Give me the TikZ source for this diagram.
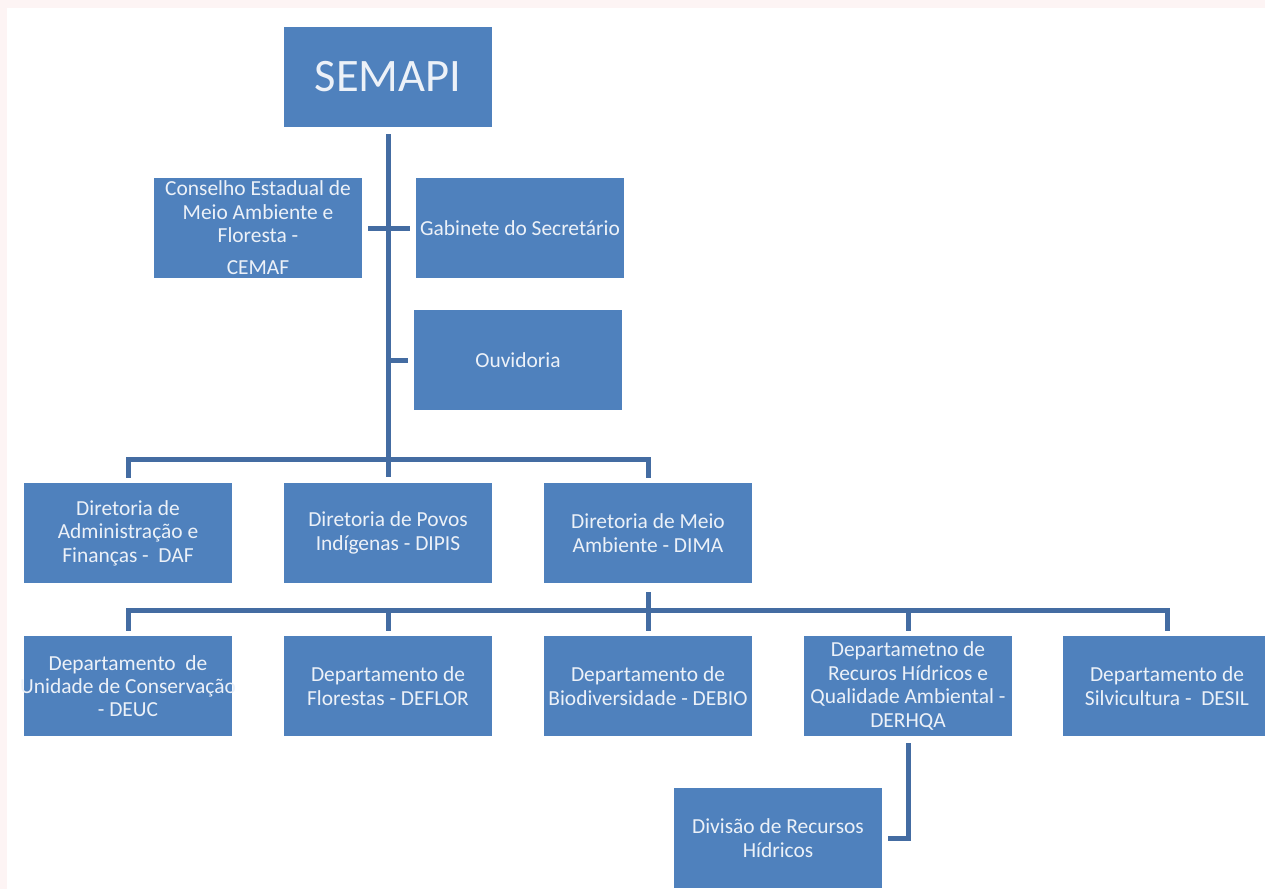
\documentclass[tikz,border=0pt]{standalone}
\usepackage{fontspec}
\setmainfont{Carlito}
\definecolor{boxblue}{RGB}{79,129,189}
\definecolor{lineblue}{RGB}{68,108,162}
\definecolor{boxtext}{RGB}{236,241,248}
\definecolor{pinkedge}{RGB}{253,244,244}

\begin{document}
\begin{tikzpicture}[x=0.02cm, y=-0.02cm,
    box/.style = {fill=boxblue, text=boxtext, minimum width=4.16cm,
      minimum height=2cm, inner sep=0pt, align=center,
      font=\fontsize{12.2}{13.3}\selectfont},
    link/.style = {draw=lineblue, line width=0.1cm}
  ]
    % page
    \fill[pinkedge] (0,0) rectangle (1265,889);
    \fill[white] (7,8) rectangle (1265,889);
    \clip (0,0) rectangle (1265,889);
    % top part
    \path
      (388,77) node[box, font=\fontsize{26.5}{30}\selectfont](semapi){SEMAPI}
      (258,228) node[box](cemaf){Conselho Estadual de\\Meio Ambiente e\\Floresta -\\[5pt]CEMAF}
      (520,228) node[box](gab){Gabinete do Secretário}
      (518,360) node[box](ouv){Ouvidoria}
    ;
    % diretorias
    \path
      (128,533) node[box](daf){Diretoria de\\Administração e\\Finanças -~ DAF}
      (388,533) node[box](dipis){Diretoria de Povos\\Indígenas - DIPIS}
      (648,533) node[box](dima){Diretoria de Meio\\Ambiente - DIMA}
    ;
    % departamentos
    \path
      (128,686) node[box](deuc){Departamento~ de\\\makebox[3.9cm]{Unidade de Conservação}\\- DEUC}
      (388,686) node[box](deflor){Departamento de\\Florestas - DEFLOR}
      (648,686) node[box](debio){Departamento de\\Biodiversidade - DEBIO}
      (908,686) node[box](derhqa){Departametno de\\Recuros Hídricos e\\Qualidade Ambiental -\\DERHQA}
      (1167,686) node[box](desil){Departamento de\\Silvicultura -~ DESIL}
      (778,838) node[box](div){Divisão de Recursos\\Hídricos}
    ;
    % bars
    \path
      (388,459) coordinate(bar1)
      (648,610) coordinate(bar2)
    ;
    % draw lines
    \draw[link, shorten <=0.14cm, shorten >=0.12cm] (semapi.south) -- (dipis.north);
    \draw[link, shorten <=0.12cm, shorten >=0.12cm] (cemaf.east) -- (gab.west);
    \draw[link, shorten >=0.12cm] (semapi.south |- ouv.west) -- (ouv.west);
    \draw[link, shorten <=0.1cm, shorten >=0.1cm] (daf.north) |- (bar1) -| (dima.north);
    \draw[link, shorten <=0.18cm, shorten >=0.1cm] (dima.south) -- (debio.north);
    \draw[link, shorten <=0.1cm, shorten >=0.1cm] (deuc.north) |- (bar2) -| (desil.north);
    \foreach \d in {deflor,derhqa}
      \draw[link, shorten >=0.1cm] (\d.north |- bar2) -- (\d.north);
    \draw[link, shorten <=0.14cm, shorten >=0.12cm] (derhqa.south) |- (div.east);
  \end{tikzpicture}
\end{document}
